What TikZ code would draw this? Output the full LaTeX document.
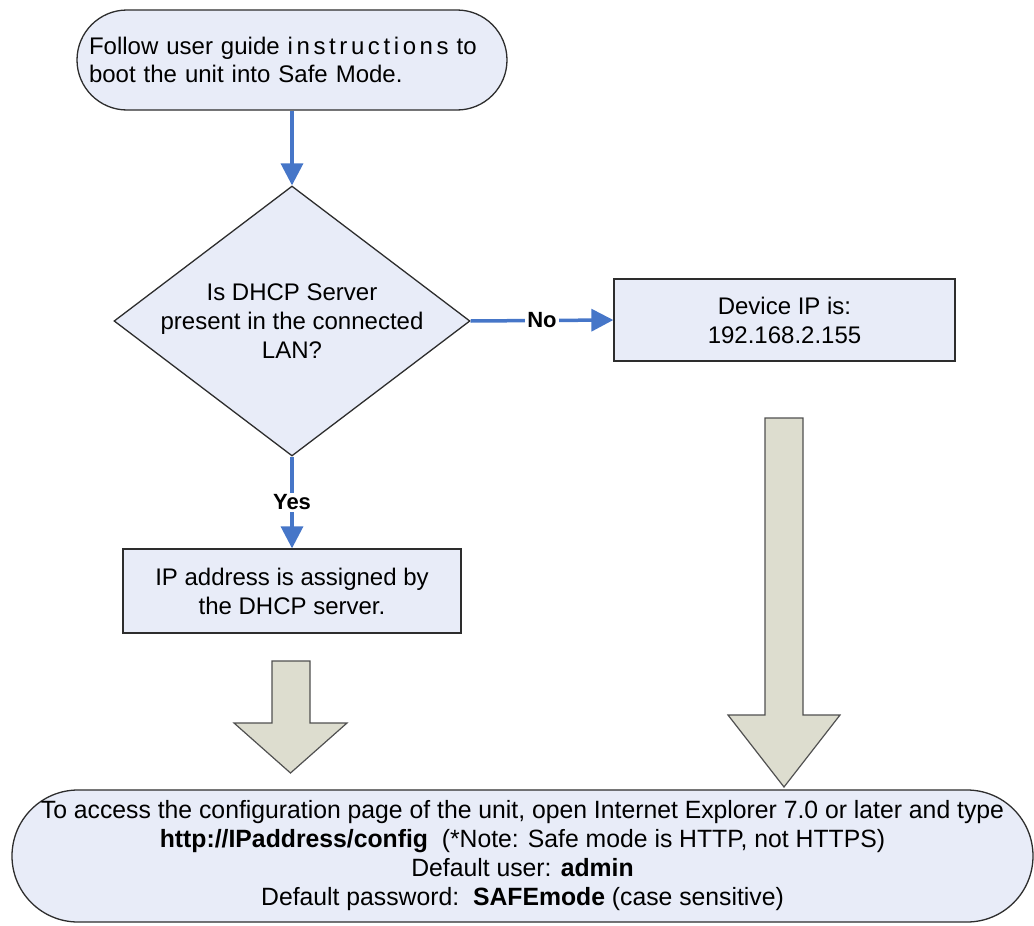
\documentclass[tikz,border=0pt]{standalone}
\usepackage{fontspec}
\setmainfont{Liberation Sans}
\newfontfamily\narrowfont[FakeStretch=0.99]{Liberation Sans}
\usetikzlibrary{shapes.geometric,arrows.meta}
\definecolor{boxfill}{RGB}{232,236,248}
\definecolor{arrowblue}{RGB}{70,118,200}
\definecolor{blockfill}{RGB}{221,221,207}
\definecolor{edgecol}{RGB}{45,45,45}
\definecolor{blockedge}{RGB}{80,80,80}
\begin{document}
\begin{tikzpicture}[x=1pt,y=-1pt,
  termbox/.style={draw=edgecol, line width=1.3pt, fill=boxfill, rectangle},
  procbox/.style={draw=edgecol, line width=1.3pt, fill=boxfill, rectangle,
    align=center, font=\fontsize{24}{29}\selectfont, inner sep=0pt},
  flow/.style={draw=arrowblue, line width=3.5pt, -{Triangle[width=22pt,length=22pt]}},
  flowlabel/.style={font=\fontsize{22}{26}\selectfont\bfseries, fill=white, inner sep=2pt},
  blockarrow/.style={draw=blockedge, line width=1.2pt, fill=blockfill, line join=miter}
]
\useasboundingbox (0,0) rectangle (1034,926);

% start terminator
\node[termbox, minimum width=430pt, minimum height=100pt, rounded corners=50pt,
      text width=424pt, inner xsep=3pt, align=left,
      font=\fontsize{24}{28}\selectfont] (start) at (292,60)
  {\hspace*{9pt}Follow user guide {\addfontfeature{LetterSpace=15}instructions} to\\\hspace*{9pt}boot the unit into Safe Mode.};

% decision
\node[diamond, draw=edgecol, line width=1.3pt, fill=boxfill, minimum width=356pt,
      minimum height=270pt, inner sep=0pt] (dec) at (292,321) {};
\node[align=center, font=\fontsize{24}{29}\selectfont] (dectext) at (dec.center)
  {Is DHCP Server\\present in the connected\\LAN?};

% process boxes
\node[procbox, minimum width=341pt, minimum height=82pt] (dev) at (784.5,320)
  {Device IP is:\\192.168.2.155};
\node[procbox, minimum width=338pt, minimum height=84pt] (ip) at (292,591)
  {IP address is assigned by\\the DHCP server.};

% end terminator
\node[termbox, minimum width=1021pt, minimum height=132pt, rounded corners=66pt,
      align=center, font=\narrowfont\fontsize{25}{29}\selectfont, inner sep=0pt] (fin) at (522.5,856)
  {To access the configuration page of the unit, open Internet Explorer 7.0 or later and type\\
   \textbf{http://IPaddress/config}\ \ (*Note: Safe mode is HTTP, not HTTPS)\\
   Default user: \textbf{admin}\\
   Default password:\ \ \textbf{SAFEmode} (case sensitive)};

% connectors
\draw[flow] (start.south) -- (dec.north);
\draw[flow] (dec.east) -- node[flowlabel] {No} (dev.west);
\draw[flow] (dec.south) -- node[flowlabel] {Yes} (ip.north);

% block arrows
\draw[blockarrow] (272,661) -- (310,661) -- (310,723) -- (347,723) -- (290.5,773)
  -- (234,723) -- (272,723) -- cycle;
\draw[blockarrow] (765,418) -- (803,418) -- (803,715) -- (840,715) -- (784,787)
  -- (728,715) -- (765,715) -- cycle;
\end{tikzpicture}
\end{document}
